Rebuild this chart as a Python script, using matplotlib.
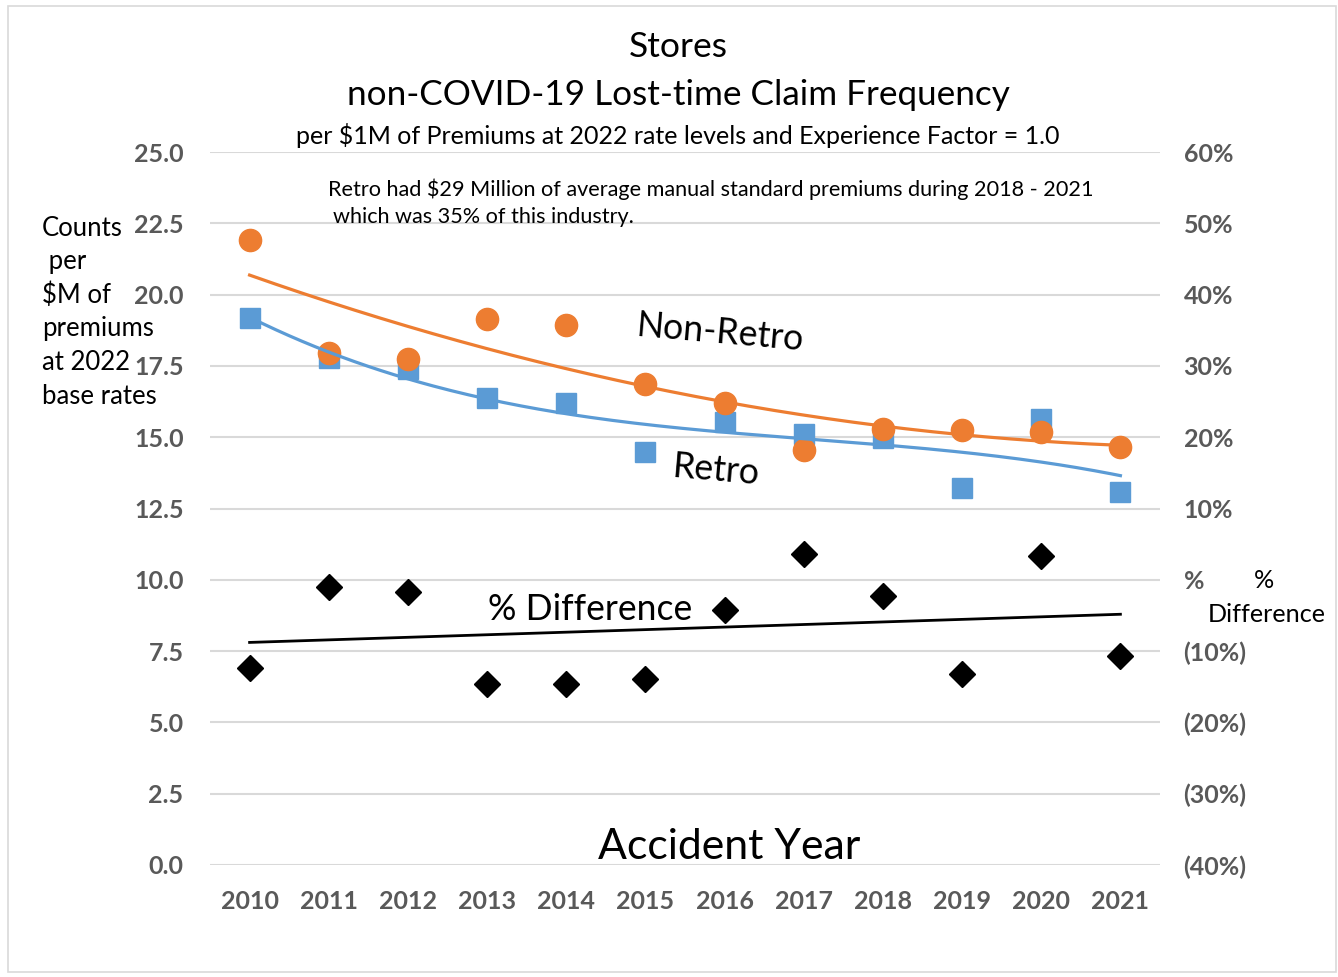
import numpy as np
import matplotlib
matplotlib.use("Agg")
from matplotlib import pyplot as plt
from matplotlib.patches import Rectangle

# values
years = [2010, 2011, 2012, 2013, 2014, 2015, 2016, 2017, 2018, 2019, 2020, 2021]
non_retro = [21.91, 17.95, 17.74, 19.14, 18.93, 16.87, 16.20, 14.55, 15.29, 15.25, 15.18, 14.66]
retro = [19.18, 17.78, 17.39, 16.37, 16.20, 14.48, 15.53, 15.11, 14.97, 13.22, 15.64, 13.08]
pct_diff = [-12.4, -1.0, -1.7, -14.6, -14.6, -13.9, -4.2, 3.6, -2.3, -13.2, 3.3, -10.7]

left_ticks = [0, 2.5, 5, 7.5, 10, 12.5, 15, 17.5, 20, 22.5, 25]
right_ticks = [-40, -30, -20, -10, 0, 10, 20, 30, 40, 50, 60]

ORANGE = '#ED7D31'
BLUE = '#5B9BD5'
GRAY = '#595959'
GRID = '#D9D9D9'
FONT = 'Lato'

plt.rcParams['font.family'] = [FONT, 'DejaVu Sans']

W, H = 1338, 977
fig = plt.figure(figsize=(W / 100, H / 100), dpi=100)

def fx(px):
    return px / W

def fy(py):
    return 1 - py / H

ax = fig.add_axes([fx(210), fy(865), fx(1160) - fx(210), fy(152) - fy(865)])
ax2 = ax.twinx()

x = np.array(years, dtype=float)
xs = np.linspace(x[0], x[-1], 200)

# trend lines, fitted like excel does
fit_nr = np.polyval(np.polyfit(x - 2010, non_retro, 2), xs - 2010)
fit_r = np.polyval(np.polyfit(x - 2010, retro, 3), xs - 2010)
fit_d = np.polyval(np.polyfit(x - 2010, pct_diff, 1), xs - 2010)

ax.plot(x, retro, 's', color=BLUE, markersize=15, zorder=3)
ax.plot(x, non_retro, 'o', color=ORANGE, markersize=16, zorder=4)
ax.plot(xs, fit_r, '-', color=BLUE, lw=2.3, zorder=5)
ax.plot(xs, fit_nr, '-', color=ORANGE, lw=2.3, zorder=5)

ax2.plot(x, pct_diff, 'D', color='black', markersize=13, zorder=3)
ax2.plot(xs, fit_d, '-', color='black', lw=2.0, zorder=5)

ax.set_xlim(2009.5, 2021.5)
ax.set_ylim(0, 25)
ax2.set_ylim(-40, 60)

ax.set_yticks(left_ticks)
ax.set_yticklabels([f'{v:.1f}' for v in left_ticks])
ax.set_xticks(years)
ax.set_xticklabels([str(y) for y in years])

def pct_label(v):
    if v > 0:
        return f'{v}%'
    if v < 0:
        return f'({-v}%)'
    return '%'

ax2.set_yticks(right_ticks)
ax2.set_yticklabels([pct_label(v) for v in right_ticks])

ax.grid(axis='y', color=GRID, lw=1.5)
ax.set_axisbelow(True)
for a in (ax, ax2):
    for s in a.spines.values():
        s.set_visible(False)
    a.tick_params(length=0, labelsize=18, labelcolor=GRAY)
    for lab in a.get_xticklabels() + a.get_yticklabels():
        lab.set_fontweight('bold')
ax.tick_params(axis='y', pad=19)
ax.tick_params(axis='x', pad=18)
ax2.tick_params(axis='y', pad=17)

# titles
fig.text(fx(678), fy(47), 'Stores', ha='center', va='center', fontsize=25.5)
fig.text(fx(678), fy(95), 'non-COVID-19 Lost-time Claim Frequency', ha='center', va='center', fontsize=25.3)
fig.text(fx(678), fy(135), 'per $1M of Premiums at 2022 rate levels and Experience Factor = 1.0',
         ha='center', va='center', fontsize=18)
fig.text(fx(328), fy(189), 'Retro had $29 Million of average manual standard premiums during 2018 - 2021',
         ha='left', va='center', fontsize=15.6)
fig.text(fx(333), fy(217), 'which was 35% of this industry.', ha='left', va='center', fontsize=15.6)

# left axis title
left_lines = ['Counts', ' per', '$M of', 'premiums', 'at 2022', 'base rates']
for i, t in enumerate(left_lines):
    fig.text(fx(42), fy(228 + i * 33.6), t, ha='left', va='center', fontsize=18.5)

# right axis title
fig.text(fx(1264), fy(581), '%', ha='center', va='center', fontsize=18.2)
fig.text(fx(1267), fy(615), 'Difference', ha='center', va='center', fontsize=18.2)

# series labels
fig.text(fx(720), fy(333), 'Non-Retro', ha='center', va='center', fontsize=25.7, rotation=-5)
fig.text(fx(716), fy(470), 'Retro', ha='center', va='center', fontsize=25.7, rotation=-5)
fig.text(fx(590), fy(610), '% Difference', ha='center', va='center', fontsize=25.6)
fig.text(fx(729), fy(847), 'Accident Year', ha='center', va='center', fontsize=30.8)

# chart border
fig.patches.append(Rectangle((fx(8), fy(972)), fx(1336) - fx(8), fy(6) - fy(972),
                             transform=fig.transFigure, fill=False, edgecolor=GRID, lw=1.2))

fig.savefig('out.png', dpi=100)
